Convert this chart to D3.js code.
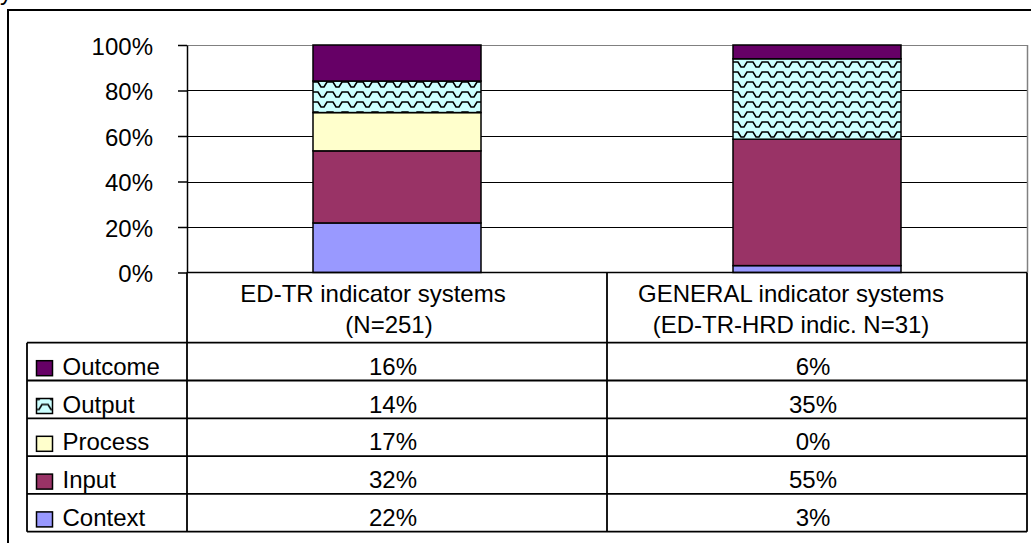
<!DOCTYPE html>
<html>
<head>
<meta charset="utf-8">
<script src="https://cdn.jsdelivr.net/npm/d3@7"></script>
<style>
  body { margin: 0; background: #fff; }
  text { font-family: "Liberation Sans", Arial, sans-serif; font-size: 24px; fill: #000; }
</style>
</head>
<body>
<div id="chart"></div>
<script>
// chart data
var categories = ["ED-TR", "GENERAL"];
var headerLines = [["ED-TR indicator systems", "(N=251)"],
                   ["GENERAL indicator systems", "(ED-TR-HRD indic. N=31)"]];
var series = ["Context", "Input", "Process", "Output", "Outcome"];
var edtrValues = [22, 32, 17, 14, 16];
var generalValues = [3, 55, 0, 35, 6];
var yTicks = [0, 0.2, 0.4, 0.6, 0.8, 1];

var colors = {Context: "#9999FF", Input: "#993366", Process: "#FFFFCC", Output: "url(#wave)", Outcome: "#660066"};

var width = 1031, height = 543;
var plot = {left: 187, right: 1027, top: 45, bottom: 272.5};
var table = {left: 27, headerBottom: 342.7, bottom: 531.7};

var svg = d3.select("#chart")
  .append("svg")
    .attr("width", width)
    .attr("height", height);

// wave pattern used for "Output"
var pat = svg.append("defs").append("pattern")
    .attr("id", "wave")
    .attr("patternUnits", "userSpaceOnUse")
    .attr("width", 15)
    .attr("height", 10);
pat.append("rect").attr("width", 15).attr("height", 10).attr("fill", "#CCFFFF");
pat.append("path")
    .attr("d", "M0,2 H3 L6,7 H9 L12,2 H15")
    .attr("fill", "none")
    .attr("stroke", "#000")
    .attr("stroke-width", 1.6);

// outer frame (runs off the canvas right and bottom)
svg.append("rect")
    .attr("x", 8).attr("y", 10)
    .attr("width", 1060).attr("height", 600)
    .attr("fill", "none")
    .attr("stroke", "#000")
    .attr("stroke-width", 2);

// clipped text line above the frame
svg.append("text").attr("x", 0).attr("y", 0).text("y");

var x = d3.scaleBand()
    .domain(categories)
    .range([plot.left, plot.right]);

var y = d3.scaleLinear()
    .domain([0, 1])
    .range([plot.bottom, plot.top]);

// gridlines
svg.append("g")
  .selectAll("line")
  .data(yTicks.filter(function(d) { return d > 0; }))
  .enter().append("line")
    .attr("x1", plot.left).attr("x2", plot.right)
    .attr("y1", function(d) { return Math.round(y(d)) + 0.5; })
    .attr("y2", function(d) { return Math.round(y(d)) + 0.5; })
    .attr("stroke", function(d) { return d === 1 ? "#808080" : "#000"; })
    .attr("stroke-width", 1.2);

// plot area right border
svg.append("line")
    .attr("x1", plot.right + 0.5).attr("x2", plot.right + 0.5)
    .attr("y1", y(1)).attr("y2", y(0))
    .attr("stroke", "#808080")
    .attr("stroke-width", 1.5);

// stacked 100% bars
var rows = categories.map(function(c, i) {
  var vals = i === 0 ? edtrValues : generalValues;
  var r = {cat: c};
  series.forEach(function(s, j) { r[s] = vals[j]; });
  return r;
});

var stacked = d3.stack()
    .keys(series)
    .offset(d3.stackOffsetExpand)(rows);

svg.append("g")
  .selectAll("g")
  .data(stacked)
  .enter().append("g")
    .attr("fill", function(d) { return colors[d.key]; })
  .selectAll("rect")
  .data(function(d) { return d; })
  .enter().append("rect")
    .attr("x", function(d) { return x(d.data.cat) + x.bandwidth() * 0.3; })
    .attr("width", x.bandwidth() * 0.4)
    .attr("y", function(d) { return y(d[1]); })
    .attr("height", function(d) { return y(d[0]) - y(d[1]); })
    .attr("stroke", "#000")
    .attr("stroke-width", 1.5);

// y axis
var yAxis = svg.append("g")
    .attr("transform", "translate(" + plot.left + ",0)")
    .call(d3.axisLeft(y).tickValues(yTicks).tickFormat(d3.format(".0%"))
      .tickSize(9).tickSizeOuter(0).tickPadding(25));
yAxis.attr("font-family", null).attr("font-size", null);
yAxis.selectAll("line, path").attr("stroke", "#000").attr("stroke-width", 1.5);
yAxis.selectAll("text").attr("dy", "0.38em");

// x axis line
svg.append("line")
    .attr("x1", plot.left).attr("x2", plot.right)
    .attr("y1", y(0)).attr("y2", y(0))
    .attr("stroke", "#000").attr("stroke-width", 1.5);

// data table
var rowOrder = series.slice().reverse();
var r = d3.scaleBand()
    .domain(rowOrder)
    .range([table.headerBottom, table.bottom]);

var tbl = svg.append("g")
    .attr("stroke", "#000")
    .attr("stroke-width", 1.8);

// horizontal lines
tbl.selectAll("line.h")
  .data(rowOrder.map(function(s) { return r(s); }).concat([table.bottom]))
  .enter().append("line")
    .attr("class", "h")
    .attr("x1", table.left).attr("x2", plot.right)
    .attr("y1", function(d) { return d; })
    .attr("y2", function(d) { return d; });

// vertical lines
tbl.append("line")
    .attr("x1", table.left).attr("x2", table.left)
    .attr("y1", table.headerBottom).attr("y2", table.bottom);
tbl.selectAll("line.v")
  .data([plot.left, x(categories[1]), plot.right])
  .enter().append("line")
    .attr("class", "v")
    .attr("x1", function(d) { return d; })
    .attr("x2", function(d) { return d; })
    .attr("y1", y(0)).attr("y2", table.bottom);

// header labels
var headerShift = [[-24, -8], [-26, -26]];
categories.forEach(function(c, i) {
  headerLines[i].forEach(function(line, k) {
    svg.append("text")
      .attr("x", x(c) + x.bandwidth() / 2 + headerShift[i][k])
      .attr("y", 301.7 + k * 31.3)
      .attr("text-anchor", "middle")
      .text(line);
  });
});

// legend keys and names
var legendRow = svg.append("g")
  .selectAll("g")
  .data(rowOrder)
  .enter().append("g")
    .attr("transform", function(d) { return "translate(0," + (r(d) + 32) + ")"; });

legendRow.append("rect")
    .attr("x", 36.5).attr("y", -14)
    .attr("width", 16).attr("height", 15)
    .attr("fill", function(d) { return colors[d]; })
    .attr("stroke", "#000")
    .attr("stroke-width", 1.5);

legendRow.append("text")
    .attr("x", 62.5)
    .text(function(d) { return d; });

// value cells
legendRow.selectAll("text.val")
  .data(function(d) {
    var j = series.indexOf(d);
    return [edtrValues[j], generalValues[j]];
  })
  .enter().append("text")
    .attr("class", "val")
    .attr("x", function(d, i) { return x(categories[i]) + x.bandwidth() / 2 - 4; })
    .attr("text-anchor", "middle")
    .text(function(d) { return d + "%"; });
</script>
</body>
</html>
